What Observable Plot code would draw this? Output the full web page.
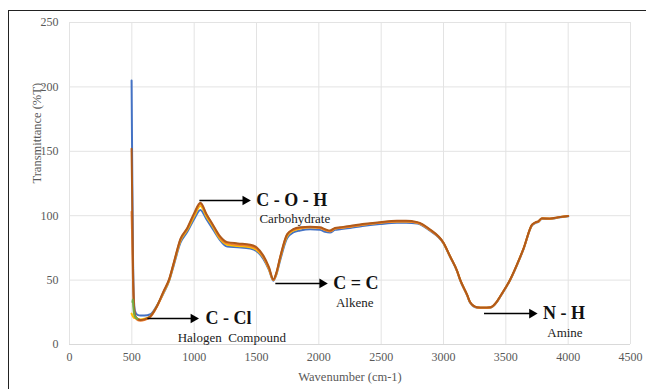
<!DOCTYPE html>
<html><head><meta charset="utf-8">
<script src="https://cdn.jsdelivr.net/npm/d3@7"></script>
<script src="https://cdn.jsdelivr.net/npm/@observablehq/plot@0.6"></script>
<style>
html,body{margin:0;padding:0;background:#fff;}
#wrap{position:relative;width:648px;height:389px;overflow:hidden;}
#wrap svg, #wrap svg text{font-family:"Liberation Serif","DejaVu Serif",serif !important;}
#border{position:absolute;left:8px;top:10px;right:2px;height:400px;border-left:1.5px solid #222;border-top:1.5px solid #222;}
</style></head><body><div id="wrap"></div>
<script>
// ---- data ----
const wavenumber = [498, 502, 508, 515, 525, 545, 570, 600, 650, 700, 755, 800, 835, 890, 945, 1000, 1050, 1100, 1150, 1200, 1266, 1350, 1450, 1500, 1555, 1600, 1635, 1660, 1690, 1745, 1795, 1850, 1930, 2010, 2050, 2090, 2130, 2170, 2250, 2350, 2490, 2625, 2700, 2790, 2890, 3000, 3053, 3110, 3133, 3190, 3213, 3270, 3320, 3375, 3429, 3455, 3535, 3615, 3640, 3710, 3740, 3758, 3790, 3854, 3920, 4000];

const blueT = [205, 150, 80, 38, 26, 23, 22.5, 22.5, 23.5, 30, 40, 49.5, 61, 79, 87.5, 97.5, 104.5, 97, 89.5, 82, 76, 75.5, 74.5, 72.5, 66.5, 58, 49.5, 54.5, 65.5, 82.5, 87, 88.5, 89.5, 89, 87.5, 87, 89, 89.5, 90.5, 92, 93.5, 94.5, 94.5, 94, 88.5, 78.5, 68, 56.5, 50, 38, 32.5, 28.5, 28.3, 28.5, 33, 37, 50, 67.5, 73.5, 92.5, 94.5, 95, 97.5, 97.5, 98.5, 99.5];

const yellowT = [24, 23, 22, 21, 20.5, 20, 19.5, 20, 22, 29.5, 40.5, 50, 62, 80.5, 89, 99.5, 107.5, 99, 91.5, 83, 77.5, 76.5, 75.5, 73.5, 67.5, 58.5, 50, 55, 67, 84, 88.5, 90, 91, 90.5, 89, 88, 90, 90.5, 91.5, 93, 94.5, 95.5, 95.5, 94.5, 89, 78.7, 68.3, 56.8, 50.3, 38.3, 32.8, 28.8, 28.5, 28.8, 33.3, 37.3, 50.3, 67.8, 73.8, 92.8, 94.8, 95.3, 97.8, 97.7, 98.7, 99.7];

const orangeT = [103, 85, 55, 33, 22, 19, 18.5, 19, 21.5, 29, 41, 50.5, 62.5, 81.5, 90, 101, 109, 100.5, 92.5, 84, 78.5, 77.5, 76.5, 74.5, 68, 59, 50, 55.5, 67.5, 85, 89, 90.5, 91, 90.5, 89, 88, 90, 90.5, 91.5, 93, 94.5, 95.5, 95.5, 94.5, 89, 78.8, 68.3, 56.8, 50.3, 38.3, 32.8, 28.8, 28.5, 28.8, 33.3, 37.3, 50.3, 67.8, 73.8, 92.8, 94.8, 95.3, 97.8, 97.7, 98.7, 99.7];

const brownT = [152, 120, 70, 35, 23, 20, 19, 19.5, 22, 29.5, 41.5, 51, 63, 82, 90.5, 102, 110, 101, 93, 85, 79.5, 78.5, 77.5, 75.5, 69, 60, 50.5, 56, 68, 85.5, 89.5, 91, 91.5, 91, 89.5, 88.5, 90.5, 91, 92, 93.5, 95, 96, 96, 95, 89.5, 79, 68.5, 57, 50.5, 38.5, 33, 29, 28.7, 29, 33.5, 37.5, 50.5, 68, 74, 93, 95, 95.5, 98, 97.8, 98.8, 99.8];

const greenX = [505, 508, 512, 520, 530, 545];
const greenT = [33, 35, 29, 23, 21, 20];

const xTicks = [0, 500, 1000, 1500, 2000, 2500, 3000, 3500, 4000, 4500];
const yTicks = [0, 50, 100, 150, 200, 250];

const groupLabels = ["C - Cl", "C - O - H", "C = C", "N - H"];
const subLabels = ["Halogen\u00a0 Compound", "Carbohydrate", "Alkene", "Amine"];
const arrowFrom = [625, 1042, 1651, 3325];
const arrowTo = [994, 1410, 2027, 3710];
const arrowAt = [20.2, 111.8, 47.4, 24];
const labelStart = [1090, 1498, 2115, 3798];
const subCenter = [1302, 1807, 2288, 3974];
const subAt = [5.4, 97.8, 32.6, 9.3];

// ---- build ----
const series = (name, xs, ys) => xs.map((x, i) => ({series: name, x, y: ys[i]}));
const blue = series("blue", wavenumber, blueT);
const yellow = series("yellow", wavenumber, yellowT);
const orange = series("orange", wavenumber, orangeT);
const brown = series("brown", wavenumber, brownT);
const green = series("green", greenX, greenT);

const ann = groupLabels.map((g, i) => ({
  g, sub: subLabels[i], x1: arrowFrom[i], x2: arrowTo[i], y: arrowAt[i],
  lx: labelStart[i], sx: subCenter[i], sy: subAt[i]
}));

const serif = "Liberation Serif";
const lw = 2;

const chart = Plot.plot({
  width: 648,
  height: 389,
  marginLeft: 69,
  marginRight: 18,
  marginTop: 22,
  marginBottom: 45,
  style: {fontFamily: serif, background: "#fff"},
  x: {domain: [0, 4500]},
  y: {domain: [0, 250]},
  marks: [
    Plot.gridX(xTicks, {stroke: "#e3e3e3", strokeOpacity: 1, strokeWidth: 1}),
    Plot.gridY(yTicks, {stroke: "#e3e3e3", strokeOpacity: 1, strokeWidth: 1}),
    Plot.ruleY([0], {stroke: "#d9d9d9", strokeWidth: 1}),
    Plot.axisX({ticks: xTicks, tickSize: 0, tickPadding: 8, tickFormat: d3.format("d"), label: null, fontSize: 12, fill: "#595959", fontFamily: serif}),
    Plot.axisY({ticks: yTicks, tickSize: 0, tickPadding: 11, tickFormat: d3.format("d"), label: null, fontSize: 12, fill: "#595959", fontFamily: serif}),
    Plot.text(["Wavenumber (cm-1)"], {frameAnchor: "bottom", dy: 32, fontSize: 12.5, fill: "#595959", lineAnchor: "middle", fontFamily: serif}),
    Plot.text(["Transmittance (%T)"], {frameAnchor: "left", dx: -33, rotate: -90, fontSize: 12.5, fill: "#595959", lineAnchor: "middle", fontFamily: serif}),
    Plot.line(blue, {x: "x", y: "y", stroke: "#4472C4", strokeWidth: lw, curve: "monotone-x"}),
    Plot.line(yellow, {x: "x", y: "y", stroke: "#FFC000", strokeWidth: lw, curve: "monotone-x"}),
    Plot.line(orange, {x: "x", y: "y", stroke: "#ED7D31", strokeWidth: lw, curve: "monotone-x"}),
    Plot.line(brown, {x: "x", y: "y", stroke: "#B05A1A", strokeWidth: lw, curve: "monotone-x"}),
    Plot.line(green, {x: "x", y: "y", stroke: "#70AD47", strokeWidth: lw, curve: "monotone-x"}),
    Plot.link(ann, {x1: "x1", x2: "x2", y1: "y", y2: "y", stroke: "#000", strokeWidth: 1.5}),
    Plot.dot(ann, {x: "x2", y: "y", symbol: "triangle", rotate: 90, r: 3.6, fill: "#000", stroke: null}),
    Plot.text(ann, {x: "lx", y: "y", text: "g", textAnchor: "start", fontWeight: "bold", fontSize: 18, fill: "#111", lineAnchor: "middle", fontFamily: serif}),
    Plot.text(ann, {x: "sx", y: "sy", text: "sub", textAnchor: "middle", fontSize: 13, fill: "#222", lineAnchor: "middle", fontFamily: serif})
  ]
});

const wrap = document.getElementById("wrap");
wrap.appendChild(chart);
const b = document.createElement("div");
b.id = "border";
wrap.appendChild(b);
</script>
</body></html>
